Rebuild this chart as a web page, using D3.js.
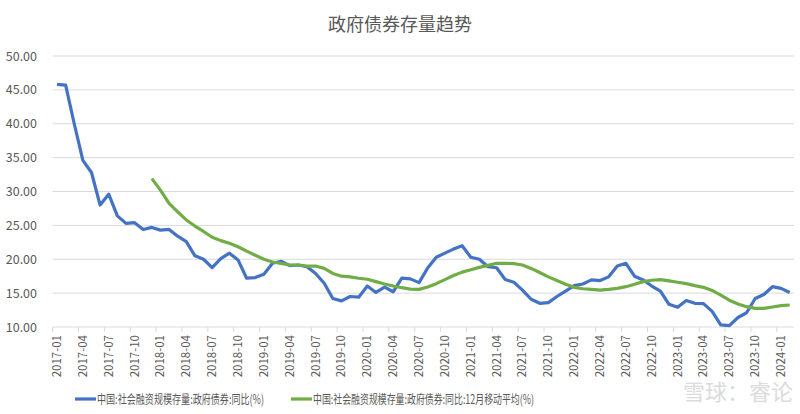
<!DOCTYPE html>
<html>
<head>
<meta charset="utf-8">
<script src="https://cdn.jsdelivr.net/npm/d3@7"></script>
<style>
  body { margin: 0; background: #fff; }
  svg { display: block; font-family: "Noto Sans CJK SC", "Noto Sans", sans-serif; }
</style>
</head>
<body>
<svg id="chart" width="800" height="414"></svg>
<script>
// months 2017-01 .. 2024-02
const months = [];
for (let yr = 2017; yr <= 2024; yr++) {
  for (let m = 1; m <= 12; m++) {
    if (yr === 2024 && m > 2) break;
    months.push(`${yr}-${String(m).padStart(2, "0")}`);
  }
}

// 中国:社会融资规模存量:政府债券:同比(%)
const yoy = [
  45.8, 45.7, 40.0, 34.6, 32.8, 28.0, 29.6, 26.4, 25.3, 25.4, 24.4, 24.7,
  24.3, 24.4, 23.4, 22.6, 20.5, 20.0, 18.75, 20.1, 20.9, 19.9, 17.2, 17.3,
  17.8, 19.4, 19.7, 19.05, 19.15, 18.9, 17.9, 16.45, 14.2, 13.85, 14.5, 14.4,
  16.05, 15.1, 15.9, 15.2, 17.2, 17.1, 16.55, 18.7, 20.3, 20.9, 21.5, 22.0,
  20.3, 20.0, 18.9, 18.75, 17.0, 16.6, 15.45, 14.1, 13.5, 13.6, 14.5, 15.3,
  16.1, 16.35, 16.95, 16.85, 17.4, 19.0, 19.4, 17.5, 16.95, 16.05, 15.3, 13.35,
  12.9, 13.9, 13.5, 13.45, 12.3, 10.3, 10.2, 11.4, 12.1, 14.2, 14.8, 15.95,
  15.7, 15.1
];

// 中国:社会融资规模存量:政府债券:同比:12月移动平均(%)
const ma12 = [
  null, null, null, null, null, null, null, null, null, null, null, 31.9,
  30.2, 28.25, 27.0, 25.8, 24.9, 24.1, 23.25, 22.75, 22.35, 21.85, 21.2, 20.6,
  20.0, 19.6, 19.4, 19.15, 19.15, 19.0, 19.0, 18.65, 17.9, 17.5, 17.4, 17.2,
  17.05, 16.7, 16.35, 16.05, 15.8, 15.6, 15.55, 15.9, 16.4, 17.0, 17.6, 18.1,
  18.45, 18.8, 19.1, 19.4, 19.4, 19.35, 19.15, 18.65, 18.05, 17.4, 16.85, 16.3,
  15.85, 15.65, 15.55, 15.45, 15.55, 15.7, 15.95, 16.3, 16.7, 16.9, 17.0, 16.8,
  16.6, 16.4, 16.1, 15.85, 15.4, 14.7, 13.95, 13.4, 13.0, 12.75, 12.75, 12.95,
  13.15, 13.25
];

const yTicks = [10, 15, 20, 25, 30, 35, 40, 45, 50];
const seriesNames = ["中国:社会融资规模存量:政府债券:同比(%)", "中国:社会融资规模存量:政府债券:同比:12月移动平均(%)"];
const colors = ["#4472C4", "#70AD47"];
const title = "政府债券存量趋势";

const svg = d3.select("#chart");
const plotLeft = 52.7, plotRight = 794, plotTop = 56, plotBottom = 327;

const x = d3.scaleBand().domain(months).range([plotLeft, plotRight]).paddingInner(0).paddingOuter(0);
const y = d3.scaleLinear().domain([10, 50]).range([plotBottom, plotTop]);

// title
svg.append("text")
  .attr("x", 400).attr("y", 31)
  .attr("text-anchor", "middle")
  .style("font-size", "18px")
  .style("fill", "#595959")
  .text(title);

// gridlines + y labels
svg.append("g").selectAll("line")
  .data(yTicks.filter(d => d > 10))
  .enter().append("line")
  .attr("x1", plotLeft).attr("x2", plotRight)
  .attr("y1", d => y(d)).attr("y2", d => y(d))
  .style("stroke", "#d9d9d9").style("stroke-width", 1);

svg.append("g").selectAll("text")
  .data(yTicks)
  .enter().append("text")
  .attr("x", 37).attr("y", d => y(d) + 4.5)
  .attr("text-anchor", "end")
  .style("font-size", "12.5px")
  .style("fill", "#595959")
  .text(d => d.toFixed(2));

// x axis line + ticks every 3 months
svg.append("line")
  .attr("x1", plotLeft).attr("x2", plotRight)
  .attr("y1", plotBottom).attr("y2", plotBottom)
  .style("stroke", "#d9d9d9").style("stroke-width", 1);

const tickMonths = months.filter((d, i) => i % 3 === 0);
svg.append("g").selectAll("line")
  .data(tickMonths)
  .enter().append("line")
  .attr("x1", d => x(d)).attr("x2", d => x(d))
  .attr("y1", plotBottom).attr("y2", plotBottom + 5)
  .style("stroke", "#d9d9d9").style("stroke-width", 1);

svg.append("g").selectAll("text")
  .data(tickMonths)
  .enter().append("text")
  .attr("transform", d => `translate(${x(d) + x.bandwidth() / 2 + 4},335) rotate(-90)`)
  .attr("text-anchor", "end")
  .style("font-size", "11.5px")
  .style("fill", "#595959")
  .text(d => d);

// lines
const line = d3.line()
  .defined(d => d[1] != null)
  .x(d => x(d[0]) + x.bandwidth() / 2)
  .y(d => y(d[1]));

[yoy, ma12].forEach((vals, k) => {
  svg.append("path")
    .datum(months.map((m, i) => [m, vals[i]]))
    .attr("d", line)
    .style("fill", "none")
    .style("stroke", colors[k])
    .style("stroke-width", 3.2)
    .style("stroke-linejoin", "round");
});

// legend (reference font is condensed, so squeeze the text to its width)
const legendX = [75, 291];
const legendTextW = [167, 221];
seriesNames.forEach((name, k) => {
  const g = svg.append("g").attr("transform", `translate(${legendX[k]},399)`);
  g.append("line").attr("x1", 0).attr("x2", 21).attr("y1", 0).attr("y2", 0)
    .style("stroke", colors[k]).style("stroke-width", 3.2);
  g.append("text").attr("x", 22).attr("y", 4.5)
    .attr("textLength", legendTextW[k])
    .attr("lengthAdjust", "spacingAndGlyphs")
    .style("font-size", "12.5px").style("fill", "#595959")
    .text(name);
});

// watermark
svg.append("text")
  .attr("x", 793).attr("y", 400)
  .attr("text-anchor", "end")
  .style("font-size", "22px")
  .style("fill", "#d0d0d0")
  .style("opacity", 0.75)
  .text("雪球：睿论");
</script>
</body>
</html>
